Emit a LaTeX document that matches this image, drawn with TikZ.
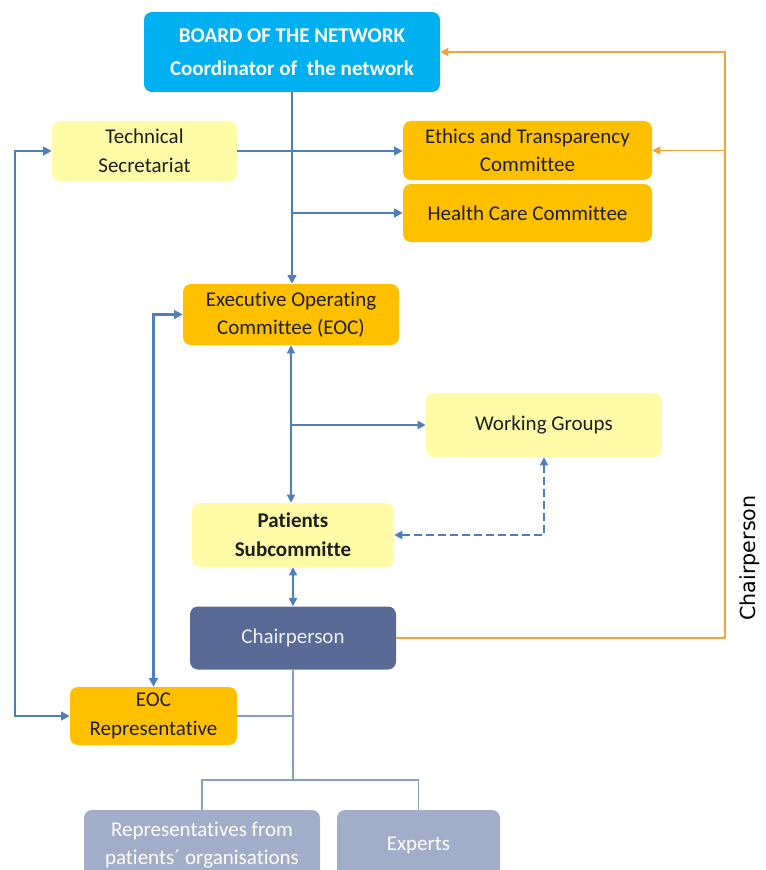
\documentclass[tikz,border=0pt]{standalone}
\usepackage{fontspec}
\setmainfont[Ligatures=NoCommon]{Carlito}
\newfontfamily\sidefont{DejaVu Sans}
\usetikzlibrary{positioning,arrows.meta}

\definecolor{boardblue}{HTML}{00B0F0}
\definecolor{eocorange}{HTML}{FFC000}
\definecolor{paleyellow}{HTML}{FFFBA6}
\definecolor{chairslate}{HTML}{596A96}
\definecolor{greyblue}{HTML}{A1ADC9}
\definecolor{linkblue}{HTML}{4E7FBC}
\definecolor{linkgrey}{HTML}{86A0C4}
\definecolor{linkorange}{HTML}{F2A33A}

\begin{document}
\begin{tikzpicture}[
    x=0.75pt, y=-0.75pt,
    base/.style={rectangle, rounded corners=6pt, align=center, inner sep=0pt, font=\fontsize{15.75}{21.4}\selectfont, text=black!88},
    boardbox/.style={base, fill=boardblue, text=white, font=\fontsize{15.75}{24.5}\selectfont\bfseries},
    orangebox/.style={base, fill=eocorange},
    yellowbox/.style={base, fill=paleyellow},
    chairbox/.style={base, fill=chairslate, text=white!90!chairslate},
    memberbox/.style={base, fill=greyblue, text=white},
    arr/.style={-{Triangle[length=6.5pt, width=6.5pt]}, line width=2pt, draw=linkblue},
    dblarr/.style={{Triangle[length=6.5pt, width=6.5pt]}-{Triangle[length=6.5pt, width=6.5pt]}, line width=1.8pt, draw=linkblue},
    thinarr/.style={{Triangle[length=6pt, width=6pt]}-{Triangle[length=6pt, width=6pt]}, line width=1.1pt, draw=linkblue},
    greyline/.style={line width=1.2pt, draw=linkgrey},
    orline/.style={line width=1.4pt, draw=linkorange, line join=miter},
    orarr/.style={orline, -{Triangle[length=6pt, width=6pt]}}
]
\clip (0,0) rectangle (766,870);

\node[boardbox, minimum width=222pt, minimum height=60pt] (board) at (292,52) {BOARD OF THE NETWORK\\Coordinator of\ \ the network};
\node[yellowbox, minimum width=138.75pt, minimum height=45pt] (tech) at (144.5,151) {Technical\\Secretariat};
\node[orangebox, minimum width=186.75pt, minimum height=44.25pt] (ethics) at (527.5,150.5) {Ethics and Transparency\\Committee};
\node[orangebox, minimum width=186.75pt, minimum height=43.5pt] (health) at (527.5,213) {Health Care Committee};
\node[orangebox, minimum width=162pt, minimum height=45.75pt] (eoc) at (291,314.5) {Executive Operating\\Committee (EOC)};
\node[yellowbox, minimum width=177pt, minimum height=48pt] (groups) at (544,425) {Working Groups};
\node[yellowbox, minimum width=151.5pt, minimum height=48pt, font=\fontsize{15.75}{22}\selectfont\bfseries] (patients) at (293,535) {Patients\\Subcommitte};
\node[chairbox, minimum width=154.5pt, minimum height=47.25pt] (chair) at (293,638) {Chairperson};
\node[orangebox, minimum width=125.25pt, minimum height=43.5pt] (eocrep) at (153.5,716) {EOC\\Representative};
\node[memberbox, minimum width=177pt, minimum height=52.5pt] (reps) at (202,845) {Representatives from\\patients´ organisations};
\node[memberbox, minimum width=122.25pt, minimum height=52.5pt] (experts) at (418.5,845) {Experts};
\node[rotate=90, font=\sidefont\fontsize{15.5}{17}\selectfont] (sidelabel) at (750,558) {Chairperson};

\coordinate (split) at (293,780);
\coordinate (turn) at (725,638);

\draw[arr] (board.south) -- (board.south |- eoc.north);
\draw[arr] (tech.east) -- (tech.east -| ethics.west);
\draw[arr] (board.south |- health.west) -- (health.west);
\draw[dblarr] (eocrep.west) -- ++(-55,0) |- (tech.west);
\draw[dblarr] (eoc.west) -| (eocrep.north);
\draw[thinarr] (eoc.south) -- (eoc.south |- patients.north);
\draw[-{Triangle[length=6pt, width=6pt]}, line width=1.1pt, draw=linkblue] (eoc.south |- groups.west) -- (groups.west);
\draw[thinarr, line width=1.4pt, dash pattern=on 6pt off 3pt] (patients.east) -| (groups.south);
\draw[thinarr] (patients.south) -- (chair.north);
\draw[greyline] (chair.south) -- (split);
\draw[greyline] (chair.south |- eocrep.east) -- (eocrep.east);
\draw[greyline] (split) -| (reps.north);
\draw[greyline] (split) -| (experts.north);
\draw[orline] (chair.east) -- (turn);
\draw[orarr] (turn) |- (board.east);
\draw[orarr] (turn |- ethics.east) -- (ethics.east);

\end{tikzpicture}
\end{document}
